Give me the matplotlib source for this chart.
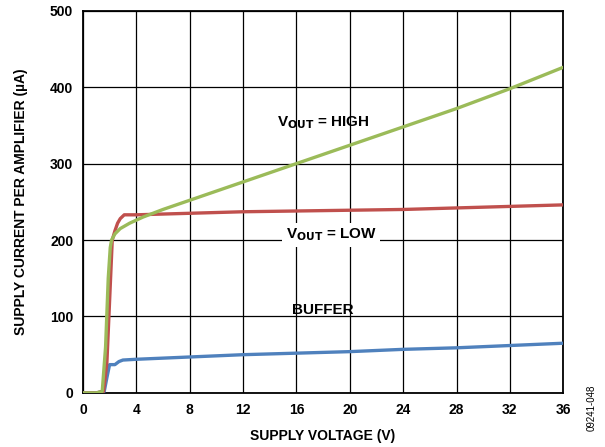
import matplotlib.pyplot as plt

plt.rcParams['font.family'] = ['Liberation Sans', 'DejaVu Sans']
plt.rcParams['font.weight'] = 'bold'

# V_OUT = HIGH
high_v = [0, 1.0, 1.45, 1.7, 1.9, 2.05, 2.15, 2.4, 2.8, 3.5, 4.5, 6, 8, 12, 16, 20, 24, 28, 32, 36]
high_i = [0, 0, 2, 60, 150, 190, 200, 208, 215, 222, 230, 240, 252, 276, 300, 324, 348, 372, 398, 426]

# V_OUT = LOW
low_v = [0, 1.0, 1.55, 1.8, 2.0, 2.2, 2.4, 2.6, 2.8, 3.1, 4, 8, 12, 16, 20, 24, 28, 32, 36]
low_i = [0, 0, 2, 40, 120, 200, 212, 222, 228, 233, 233, 235, 237, 238, 239, 240, 242, 244, 246]

# BUFFER
buf_v = [0, 1.0, 1.6, 1.8, 2.0, 2.4, 2.7, 3.0, 4, 8, 12, 16, 20, 24, 28, 32, 36]
buf_i = [0, 0, 2, 20, 37, 37, 41, 43, 44, 47, 50, 52, 54, 57, 59, 62, 65]

xticks = list(range(0, 37, 4))
yticks = [0, 100, 200, 300, 400, 500]

fig = plt.figure(figsize=(6.05, 4.47), dpi=100)
ax = fig.add_axes([0.137, 0.121, 0.794, 0.855])

ax.plot(buf_v, buf_i, color='#4F81BD', lw=2.4, solid_capstyle='round', zorder=3)
ax.plot(low_v, low_i, color='#C0504D', lw=2.4, solid_capstyle='round', zorder=3)
ax.plot(high_v, high_i, color='#9BBB59', lw=2.4, solid_capstyle='round', zorder=4)

ax.set_xlim(0, 36)
ax.set_ylim(0, 500)
ax.set_xticks(xticks)
ax.set_yticks(yticks)
ax.tick_params(labelsize=10, length=0, pad=7)
for lab in ax.get_xticklabels() + ax.get_yticklabels():
    lab.set_fontweight('bold')
ax.grid(True, color='black', lw=0.9)
ax.set_axisbelow(True)
for sp in ax.spines.values():
    sp.set_linewidth(1.3)

ax.set_xlabel('SUPPLY VOLTAGE (V)', fontsize=10, fontweight='bold', labelpad=9)
ax.set_ylabel('SUPPLY CURRENT PER AMPLIFIER (µA)', fontsize=10, fontweight='bold', labelpad=16)

ax.text(18.0, 354, r'V$_{\mathbf{OUT}}$ = HIGH', fontsize=11, fontweight='bold',
        ha='center', va='center', zorder=5)
ax.text(18.6, 207, r'V$_{\mathbf{OUT}}$ = LOW', fontsize=11, fontweight='bold',
        ha='center', va='center', zorder=5,
        bbox=dict(facecolor='white', edgecolor='none', pad=2.5))
ax.text(18.0, 109, 'BUFFER', fontsize=11, fontweight='bold', ha='center', va='center', zorder=5)

fig.text(0.978, 0.035, '09241-048', rotation=90, fontsize=7, fontweight='normal',
         ha='center', va='bottom')

fig.savefig('out.png', dpi=100)
